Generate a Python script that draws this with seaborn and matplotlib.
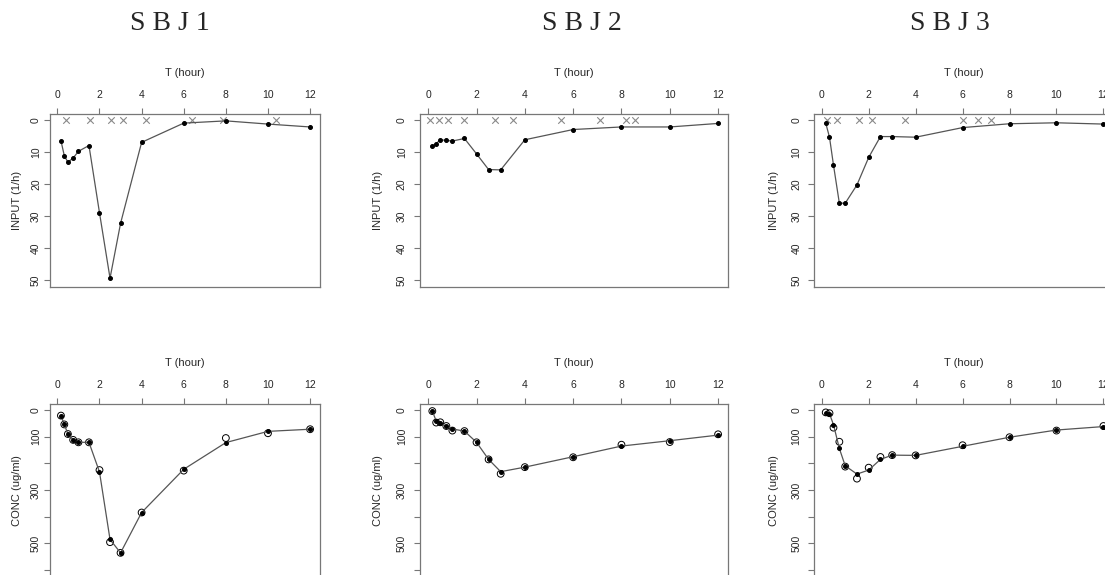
import numpy as np
import pandas as pd
import matplotlib
matplotlib.use("Agg")
import matplotlib.pyplot as plt
import seaborn as sns

sns.set_style("white")
plt.rcParams['font.family'] = ['Liberation Sans', 'DejaVu Sans']

# ---- data ----
times = [0.17, 0.33, 0.5, 0.75, 1, 1.5, 2, 2.5, 3, 4, 6, 8, 10, 12]
titles = ["S B J 1", "S B J 2", "S B J 3"]
x_ticks = [0, 2, 4, 6, 8, 10, 12]

input1 = [6.5, 11.2, 13.2, 11.9, 9.8, 8.0, 29.0, 49.4, 32.3, 7.0, 1.0, 0.3, 1.3, 2.2]
input2 = [8.3, 7.4, 6.2, 6.4, 6.6, 5.8, 10.6, 15.5, 15.6, 6.2, 3.0, 2.2, 2.2, 1.1]
input3 = [1.0, 5.4, 14.1, 26.0, 26.0, 20.3, 11.7, 5.2, 5.2, 5.4, 2.4, 1.2, 0.9, 1.3]

cross1 = [0.43, 1.57, 2.56, 3.13, 4.2, 6.4, 7.85, 10.4]
cross2 = [0.08, 0.46, 0.83, 1.49, 2.76, 3.53, 5.5, 7.13, 8.18, 8.58]
cross3 = [0.24, 0.67, 1.6, 2.13, 3.53, 6.0, 6.65, 7.2]

fit1 = [21, 54, 90, 112, 121, 121, 232, 485, 535, 384, 222, 122, 80, 72]
obs1 = [21, 54, 90, 112, 121, 121, 225, 495, 535, 384, 227, 105, 87, 72]
fit2 = [4, 41, 50, 60, 71, 79, 121, 185, 231, 214, 175, 135, 115, 94]
obs2 = [4, 47, 46, 60, 77, 79, 121, 185, 239, 214, 177, 130, 120, 91]
fit3 = [10, 14, 55, 144, 209, 240, 225, 185, 169, 170, 136, 102, 75, 62]
obs3 = [9, 12, 66, 119, 212, 257, 216, 176, 169, 170, 132, 102, 77, 60]

inputs = [input1, input2, input3]
crosses = [cross1, cross2, cross3]
fits = [fit1, fit2, fit3]
obss = [obs1, obs2, obs3]

conc_ticks = [0, 100, 200, 300, 400, 500, 600]
conc_labels = ["0", "100", "", "300", "", "500", ""]
input_ticks = [0, 10, 20, 30, 40, 50]

# ---- layout (pixels) ----
W, H = 1105, 575
fig = plt.figure(figsize=(W / 100, H / 100), dpi=100)

panel_x = [(50, 270), (420, 308), (814, 300)]
xlims = [(-0.35, 12.47), (-0.34, 12.41), (-0.33, 12.45)]
title_x = [170, 582, 950]
ylab_off = [28, 37, 35]
ytick_pad = [2.5, 5.5, 5.0]

line_col = "#555555"
spine_col = "#777777"


def make_ax(left, width, top, bottom):
    return fig.add_axes([left / W, (H - bottom) / H, width / W, (bottom - top) / H])


def style(ax, i, xlim, ylim, yticks, ylabels, ylabel):
    ax.set_xlim(*xlim)
    ax.set_ylim(*ylim)
    ax.xaxis.tick_top()
    ax.xaxis.set_label_position("top")
    ax.set_xticks(x_ticks)
    ax.set_xticklabels([str(v) for v in x_ticks])
    ax.set_yticks(yticks)
    ax.set_yticklabels(ylabels, rotation=90, va="center")
    ax.tick_params(axis="x", direction="out", length=4, width=0.8, color=spine_col,
                   labelsize=7.5, pad=6, top=True, bottom=False)
    ax.tick_params(axis="y", direction="out", length=4, width=0.8, color=spine_col,
                   labelsize=7.5, pad=ytick_pad[i], left=True)
    for s in ax.spines.values():
        s.set_color(spine_col)
        s.set_linewidth(0.9)
    ax.set_xlabel("T (hour)", fontsize=8, labelpad=10)
    ax.set_ylabel(ylabel, fontsize=8)
    bbox_w = panel_x[i][1]
    ax.yaxis.set_label_coords(-ylab_off[i] / bbox_w, 0.5)
    ax.grid(False)


for i in range(3):
    left, width = panel_x[i]
    # --- top: INPUT ---
    ax = make_ax(left, width, 113.5, 286.5)
    df_in = pd.DataFrame({"T": times, "INPUT": inputs[i]})
    sns.lineplot(data=df_in, x="T", y="INPUT", ax=ax, color=line_col, linewidth=0.9,
                 marker="o", markersize=2.8, markerfacecolor="black",
                 markeredgecolor="black", sort=False)
    df_x = pd.DataFrame({"T": crosses[i], "INPUT": [0] * len(crosses[i])})
    sns.scatterplot(data=df_x, x="T", y="INPUT", ax=ax, marker="x", color="#888888",
                    s=22, linewidth=0.8)
    style(ax, i, xlims[i], (52, -2), input_ticks, [str(v) for v in input_ticks],
          "INPUT (1/h)")

    # --- bottom: CONC ---
    ax2 = make_ax(left, width, 403.6, 576.6)
    df_c = pd.DataFrame({"T": times, "fit": fits[i], "obs": obss[i]})
    sns.lineplot(data=df_c, x="T", y="fit", ax=ax2, color=line_col, linewidth=0.9,
                 marker="o", markersize=2.8, markerfacecolor="black",
                 markeredgecolor="black", sort=False)
    sns.scatterplot(data=df_c, x="T", y="obs", ax=ax2, marker="o", s=24,
                    facecolor="none", edgecolor="black", linewidth=0.7)
    style(ax2, i, xlims[i], (624, -24), conc_ticks, conc_labels, "CONC (ug/ml)")

    fig.text(title_x[i] / W, 1 - 23 / H, titles[i], ha="center", va="center",
             fontsize=20, family=["Liberation Serif", "DejaVu Serif"])

fig.savefig("out.png", dpi=100)
